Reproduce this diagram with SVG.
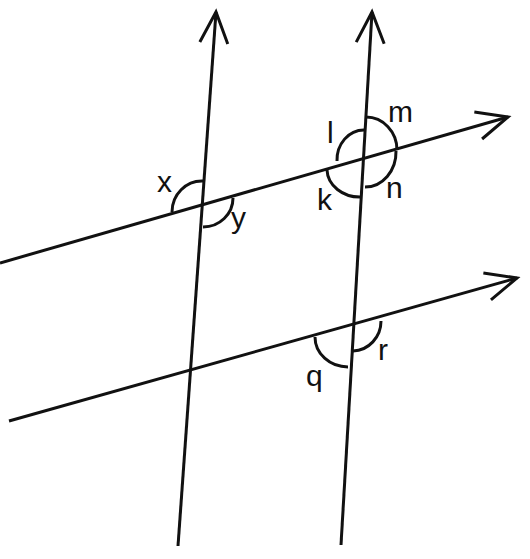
<svg xmlns="http://www.w3.org/2000/svg" width="530" height="559" viewBox="0 0 530 559">
<style>
.ln{stroke:#111;stroke-width:3;fill:none}
.arc{stroke:#111;stroke-width:3;fill:none}
.lb{font-family:"Liberation Sans",Arial,sans-serif;font-size:30px;fill:#111}
</style>
<defs>
<marker id="ah" markerUnits="userSpaceOnUse" viewBox="-36 -18 40 36" markerWidth="40" markerHeight="36" refX="0" refY="0" orient="auto" overflow="visible">
<path d="M -31 -14 L 0 0 L -31 14" stroke="#111" stroke-width="3" fill="none"/>
</marker>
</defs>
<rect width="530" height="559" fill="#fff"/>
<g id="lines">
<line id="v1" class="ln" x1="178" y1="546" x2="216" y2="12" marker-end="url(#ah)"/>
<line id="v2" class="ln" x1="341" y1="545" x2="372" y2="12" marker-end="url(#ah)"/>
<line id="t1" class="ln" x1="0" y1="263" x2="508" y2="117" marker-end="url(#ah)"/>
<line id="t2" class="ln" x1="9" y1="421" x2="517" y2="278" marker-end="url(#ah)"/>
</g>
<g id="arcs">
<path class="arc" d="M 172 212 A 30 31 0 0 1 203 181"/>
<path class="arc" d="M 203 227 A 30 29 0 0 0 233 198"/>
<path class="arc" d="M 337 161 A 27 30 0 0 1 364 130"/>
<path class="arc" d="M 366 117 A 31 33 0 0 1 397 150"/>
<path class="arc" d="M 396 151 A 31 35 0 0 1 365 187"/>
<path class="arc" d="M 327 170 A 33 28 0 0 0 361 197"/>
<path class="arc" d="M 315 337 A 33 30 0 0 0 348 367"/>
<path class="arc" d="M 353 351 A 29 30 0 0 0 381 321"/>
</g>
<g id="labels">
<text class="lb" x="157" y="192">x</text>
<text class="lb" x="231" y="228">y</text>
<text class="lb" x="327" y="143">l</text>
<text class="lb" x="388" y="122">m</text>
<text class="lb" x="386" y="198">n</text>
<text class="lb" x="317" y="210">k</text>
<text class="lb" x="306" y="386">q</text>
<text class="lb" x="378" y="360">r</text>
</g>
</svg>
